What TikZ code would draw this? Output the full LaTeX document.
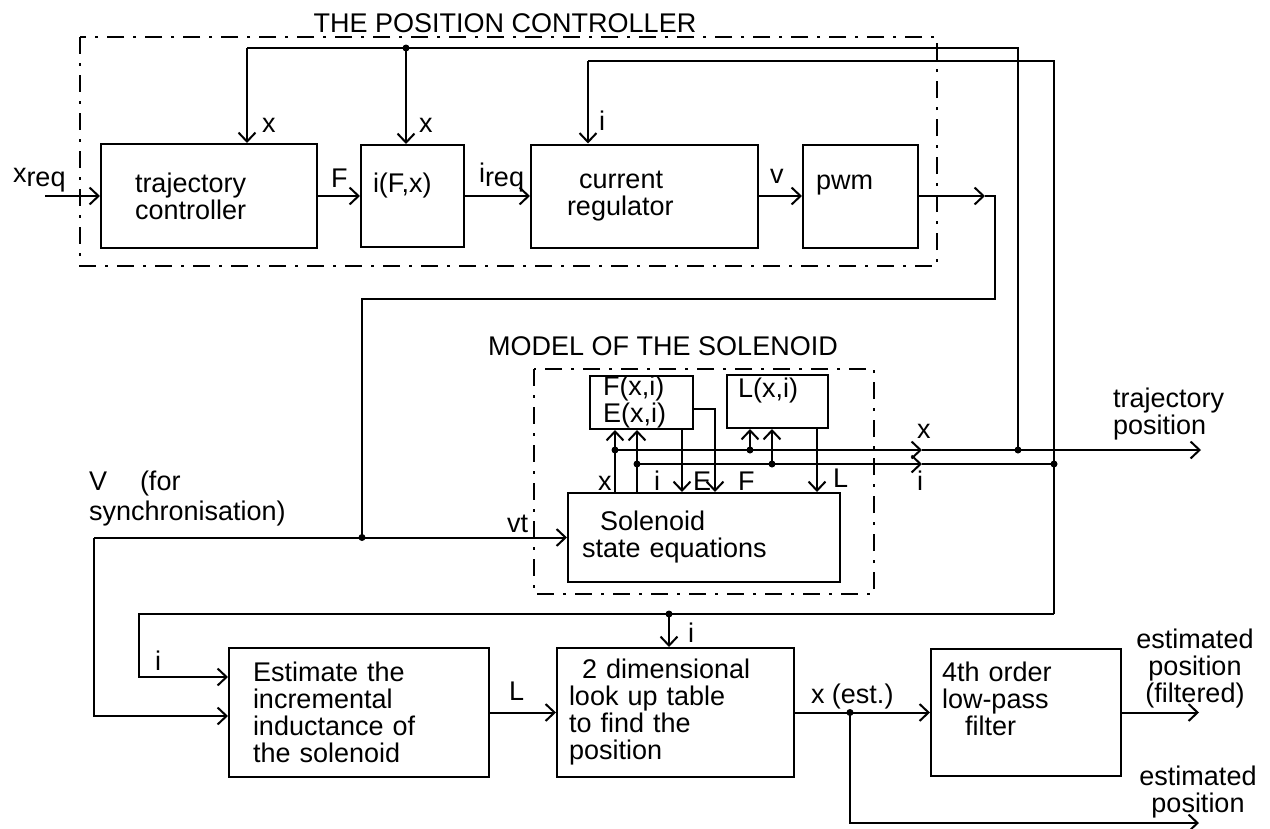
\documentclass[tikz,border=0pt]{standalone}
\usepackage{fontspec}
\setmainfont{Liberation Sans}
\usetikzlibrary{arrows.meta}
\begin{document}
\begin{tikzpicture}[x=1pt,y=-1pt,font=\fontsize{27}{27}\selectfont,line width=2pt,>={Straight Barb[length=9pt,width=17pt]}]
\tikzstyle{blk}=[draw,align=left,inner ysep=0pt];
\tikzstyle{lab}=[anchor=base west,inner sep=0pt];
\tikzstyle{txt}=[inner sep=0pt];
\tikzstyle{grp}=[line width=1.2pt,dash pattern=on 17pt off 9pt on 3pt off 9pt];
\useasboundingbox (0,0) rectangle (1270,828);
\node [blk,minimum height=104pt,text width=148pt,inner xsep=34pt] (traj) at (209,196) {trajectory\\controller};
\node [blk,minimum height=102pt,text width=79pt,inner xsep=12pt] (ifx) at (412.5,196) {i(F,x)\\\mbox{}};
\node [blk,minimum height=103pt,text width=155pt,inner xsep=36pt] (creg) at (644.5,196) {\hspace*{12pt}current\\regulator};
\node [blk,minimum height=103pt,text width=89pt,inner xsep=13pt] (pwm) at (860.5,196) {pwm\\\mbox{}};
\node [blk,minimum height=89pt,text width=244pt,inner xsep=14pt] (sol) at (704,537.5) {\hspace*{18pt}Solenoid\\state equations};
\node [blk,minimum height=53pt,text width=77pt,inner xsep=13pt] (fe) at (641.5,402.5) {F(x,i)\\E(x,i)};
\node [blk,minimum height=53pt,text width=79pt,inner xsep=11pt] (lx) at (777.5,401.5) {L(x,i)\\\mbox{}};
\node [blk,minimum height=129pt,text width=212pt,inner xsep=24pt] (est) at (359,712.5) {Estimate the\\incremental\\inductance of\\the solenoid};
\node [blk,minimum height=129pt,text width=213pt,inner xsep=12pt] (lut) at (675.5,712.5) {\hspace*{13pt}2 dimensional\\look up table\\to find the\\position};
\node [blk,minimum height=127pt,text width=168pt,inner xsep=11pt] (flt) at (1026,712.5) {4th order\\low-pass\\\hspace*{23pt}filter\\\mbox{}};
\draw [grp] (80,37) rectangle (937,266);
\draw [grp] (534,369) rectangle (874,594);
\node [anchor=base] (tpc) at (505,32) {THE POSITION CONTROLLER};
\node [anchor=base] (tms) at (663,355) {MODEL OF THE SOLENOID};
\coordinate (xin) at (45,196);
\coordinate (xfb) at (1018,48);
\coordinate (xl) at (247,48);
\coordinate (xm) at (406,48);
\coordinate (ifb) at (1054,61);
\coordinate (il) at (588,61);
\coordinate (ib) at (1054,614);
\coordinate (ie) at (139,614);
\coordinate (iest) at (139,677);
\coordinate (ilut) at (669,614);
\coordinate (pa) at (985,196);
\coordinate (pd) at (362,299);
\coordinate (vd) at (362,537.5);
\coordinate (vl) at (94,537.5);
\coordinate (vb) at (94,716);
\coordinate (xd) at (615,450);
\coordinate (id) at (637,464);
\coordinate (ec) at (682,464);
\coordinate (fc) at (715,464);
\coordinate (lxx) at (750,450);
\coordinate (lxi) at (772,464);
\coordinate (lc) at (817,464);
\coordinate (xa) at (922,450);
\coordinate (ia) at (922,464);
\coordinate (xj) at (1018,450);
\coordinate (ij) at (1054,464);
\coordinate (xout) at (1201,450);
\coordinate (xe) at (850,712.5);
\coordinate (fout) at (1199,712.5);
\coordinate (eout) at (1199,823);
\draw [->] (xin) -- (traj);
\draw [->] (traj) -- (ifx);
\draw [->] (ifx) -- (creg);
\draw [->] (creg) -- (pwm);
\draw [->] (pwm) -- (pa);
\draw (pa) -- ++(10,0) |- (pd) -- (vd);
\draw [->] (vl) -- (sol);
\draw [->] (vl) -- (vb) -- (vb -| est.west);
\draw (xj) -- (xfb) -- (xl);
\draw [->] (xl) -- (xl |- traj.north);
\draw [->] (xm) -- (xm |- ifx.north);
\draw (ib) -- (ifb) -- (il);
\draw [->] (il) -- (il |- creg.north);
\draw [->] (ib) -- (ie) -- (iest) -- (iest -| est.west);
\draw [->] (ilut) -- (ilut |- lut.north);
\draw [->] (est) -- (lut);
\draw [->] (lut) -- (flt);
\draw [->] (xe) |- (eout);
\draw [->] (flt) -- (fout);
\draw [->] (xd |- sol.north) -- (xd |- fe.south);
\draw [->] (id |- sol.north) -- (id |- fe.south);
\draw [->] (ec |- fe.south) -- (ec |- sol.north);
\draw [->] ([yshift=-6pt]fe.east) -| (fc |- sol.north);
\draw [->] (lxx) -- (lxx |- lx.south);
\draw [->] (lxi) -- (lxi |- lx.south);
\draw [->] (lc |- lx.south) -- (lc |- sol.north);
\draw [->] (xd) -- (xa);
\draw (xa) -- (xj);
\draw [->] (xj) -- (xout);
\draw [->] (id) -- (ia);
\draw (ia) -- (ij);
\foreach \p in {xm,xj,ij,xd,id,lxx,lxi,vd,ilut,xe} \fill (\p) circle (3.5pt);
\node [lab] (lxr) at (12,182) {x\raisebox{-4pt}{req}};
\node [lab] (lF) at (330,187) {F};
\node [lab] (lir) at (478,182) {i\raisebox{-4pt}{req}};
\node [lab] (lv) at (769,183) {v};
\node [lab] (lx1) at (261,132) {x};
\node [lab] (lx2) at (418,132) {x};
\node [lab] (li1) at (598,130) {i};
\node [lab] (lvt) at (506,532) {vt};
\node [txt,anchor=west,align=left] (lV) at (88,499) {V\hspace*{33pt}(for\\[3pt]synchronisation)};
\node [lab] (lmx) at (597,490) {x};
\node [lab] (lmi) at (653,490) {i};
\node [lab] (lmE) at (692,490) {E};
\node [lab] (lmF) at (737,490) {F};
\node [lab] (lmL) at (832,487) {L};
\node [lab] (lxo) at (916,438) {x};
\node [lab] (lio) at (916,490) {i};
\node [txt,anchor=west,align=left] (ltp) at (1112,414) {trajectory\\position};
\node [lab] (lie) at (154,670) {i};
\node [lab] (lL) at (508,700) {L};
\node [lab] (lil) at (687,642) {i};
\node [lab] (lxe) at (810,703) {x (est.)};
\node [txt,align=center] (lepf) at (1195,669) {estimated\\position\\(filtered)};
\node [txt,align=center] (lep) at (1198,792) {estimated\\position};
\end{tikzpicture}
\end{document}
